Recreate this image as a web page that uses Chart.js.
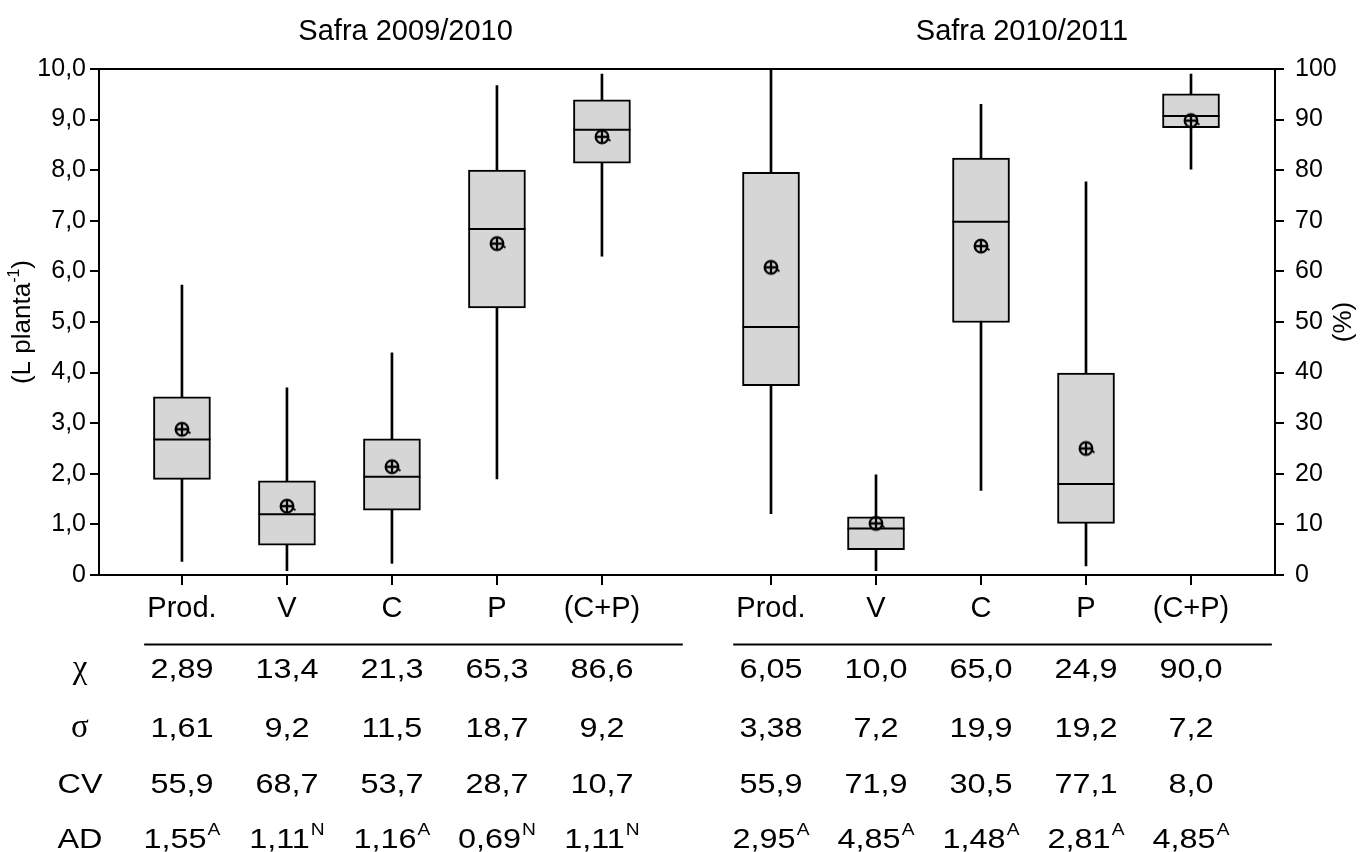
<!DOCTYPE html>
<html>
<head>
<meta charset="utf-8">
<script src="https://cdn.jsdelivr.net/npm/chart.js@4.4.1/dist/chart.umd.min.js"></script>
<style>
html, body { margin: 0; padding: 0; background: #fff; }
canvas { display: block; }
</style>
</head>
<body>
<canvas id="c" width="1361" height="852"></canvas>
<script>
// ---------------- DATA ----------------
const categories = ['Prod.', 'V', 'C', 'P', '(C+P)'];
const seasons = ['Safra 2009/2010', 'Safra 2010/2011'];

// Prod. in L planta-1 (left axis); V, C, P, (C+P) in % (right axis)
const low2009    = [0.27,  0.85,  2.3, 19.0, 63.0];
const q1_2009    = [1.89,  5.9,  12.8, 52.8, 81.4];
const median2009 = [2.68, 12.0,  19.4, 68.4, 88.0];
const q3_2009    = [3.52, 18.6,  26.9, 80.0, 93.9];
const high2009   = [5.73, 37.0,  43.9, 96.7, 99.0];
const mean2009   = [2.88, 13.6,  21.4, 65.5, 86.6];

const low2010    = [1.21,  0.85, 16.7,  1.8, 80.2];
const q1_2010    = [3.74,  5.0,  49.9, 10.2, 88.4];
const median2010 = [4.90,  9.2,  69.8, 18.0, 90.7];
const q3_2010    = [7.96, 11.5,  82.4, 39.9, 95.1];
const high2010   = [10.0, 19.8,  93.0, 77.7, 99.0];
const mean2010   = [6.08, 10.2,  65.0, 25.0, 89.8];

const leftTickLabels  = ['0', '1,0', '2,0', '3,0', '4,0', '5,0', '6,0', '7,0', '8,0', '9,0', '10,0'];
const rightTickLabels = ['0', '10', '20', '30', '40', '50', '60', '70', '80', '90', '100'];

const statLabels = ['\u03C7', '\u03C3', 'CV', 'AD'];
const tabMean2009  = ['2,89', '13,4', '21,3', '65,3', '86,6'];
const tabSd2009    = ['1,61', '9,2', '11,5', '18,7', '9,2'];
const tabCv2009    = ['55,9', '68,7', '53,7', '28,7', '10,7'];
const tabAd2009    = ['1,55', '1,11', '1,16', '0,69', '1,11'];
const tabAdSig2009 = ['A', 'N', 'A', 'N', 'N'];
const tabMean2010  = ['6,05', '10,0', '65,0', '24,9', '90,0'];
const tabSd2010    = ['3,38', '7,2', '19,9', '19,2', '7,2'];
const tabCv2010    = ['55,9', '71,9', '30,5', '77,1', '8,0'];
const tabAd2010    = ['2,95', '4,85', '1,48', '2,81', '4,85'];
const tabAdSig2010 = ['A', 'A', 'A', 'A', 'A'];

// ---------------- LAYOUT / STYLE ----------------
const FONT = "'Liberation Sans', Arial, sans-serif";
const SERIF = "'Liberation Serif', 'Times New Roman', serif";
const groupStart = [1, 6.61];     // x-axis value of first category in each season
const X_MIN = 0.21, X_MAX = 11.41;
const STRETCH = 1.2;
const BOX_FILL = '#d6d6d6';

const seasonData = [
  { low: low2009, q1: q1_2009, med: median2009, q3: q3_2009, high: high2009, mean: mean2009 },
  { low: low2010, q1: q1_2010, med: median2010, q3: q3_2010, high: high2010, mean: mean2010 }
];
const tableData = [
  { rows: [tabMean2009, tabSd2009, tabCv2009, tabAd2009], sig: tabAdSig2009 },
  { rows: [tabMean2010, tabSd2010, tabCv2010, tabAd2010], sig: tabAdSig2010 }
];

const xOf = (g, i) => groupStart[g] + i;
const tickPositions = seasons.flatMap((s, g) => categories.map((c, i) => xOf(g, i)));
const xTickLabels = seasons.flatMap(() => categories);

// mean marker: circle with cross and a small tail (point style image)
function makeMeanMarker() {
  const c = document.createElement('canvas');
  c.width = 26; c.height = 26;
  const k = c.getContext('2d');
  k.strokeStyle = '#000';
  k.lineWidth = 2.3;
  k.beginPath(); k.arc(13, 13, 6.3, 0, Math.PI * 2); k.stroke();
  k.beginPath();
  k.moveTo(6.7, 13); k.lineTo(19.3, 13);
  k.moveTo(13, 6.7); k.lineTo(13, 19.3);
  k.stroke();
  k.lineWidth = 2;
  k.beginPath(); k.moveTo(18.5, 15); k.lineTo(21.5, 17); k.stroke();
  return c;
}
const meanMarker = makeMeanMarker();

function collect(usePct, fn) {
  const out = [];
  seasonData.forEach((s, g) => categories.forEach((c, i) => {
    if ((i !== 0) === usePct) out.push({ x: xOf(g, i), y: fn(s, i) });
  }));
  return out;
}

const datasets = [];
[['y', false], ['y2', true]].forEach(([axis, pct]) => {
  datasets.push({ type: 'bar', xAxisID: 'x', yAxisID: axis,
    data: collect(pct, (s, i) => [s.low[i], s.high[i]]),
    backgroundColor: '#000', borderWidth: 0, barThickness: 2, grouped: false, order: 4 });
  datasets.push({ type: 'bar', xAxisID: 'x', yAxisID: axis,
    data: collect(pct, (s, i) => [s.q1[i], s.q3[i]]),
    backgroundColor: BOX_FILL, borderColor: '#000', borderWidth: 2, borderSkipped: false,
    barThickness: 57, grouped: false, order: 3 });
  datasets.push({ type: 'scatter', xAxisID: 'x', yAxisID: axis,
    data: collect(pct, (s, i) => s.med[i]),
    pointStyle: 'line', pointRadius: 28.5, pointBorderWidth: 2, pointBorderColor: '#000', order: 2 });
  datasets.push({ type: 'scatter', xAxisID: 'x', yAxisID: axis,
    data: collect(pct, (s, i) => s.mean[i]),
    pointStyle: meanMarker, pointRadius: 7, order: 1 });
});

function drawStretched(ctx, text, x, y, sx, align) {
  ctx.save();
  ctx.translate(x, y);
  ctx.scale(sx, 1);
  ctx.textAlign = align;
  ctx.fillText(text, 0, 0);
  ctx.restore();
}

const annotationsPlugin = {
  id: 'annotations',
  afterDraw(chart) {
    const ctx = chart.ctx;
    const xs = chart.scales.x;
    const area = chart.chartArea;
    const midY = (area.top + area.bottom) / 2;
    ctx.save();
    ctx.fillStyle = '#000';
    ctx.strokeStyle = '#000';
    ctx.textBaseline = 'alphabetic';

    // season titles
    const titleShift = [2.13, 2.39];
    ctx.font = `29px ${FONT}`;
    ctx.textAlign = 'center';
    seasons.forEach((t, g) => ctx.fillText(t, xs.getPixelForValue(groupStart[g] + titleShift[g]), 40));

    // rules above table
    ctx.lineWidth = 2;
    seasons.forEach((t, g) => {
      ctx.beginPath();
      ctx.moveTo(xs.getPixelForValue(groupStart[g] - 0.36), 644.5);
      ctx.lineTo(xs.getPixelForValue(groupStart[g] + categories.length - 1 + 0.77), 644.5);
      ctx.stroke();
    });

    // table
    const baselines = [678, 736.5, 793, 848];
    statLabels.forEach((lab, r) => {
      const greek = r < 2;
      ctx.font = greek ? `33px ${SERIF}` : `27px ${FONT}`;
      drawStretched(ctx, lab, 80, baselines[r], greek ? 1 : STRETCH, 'center');
    });
    tableData.forEach((td, g) => {
      td.rows.forEach((row, r) => {
        row.forEach((txt, i) => {
          const cx = xs.getPixelForValue(xOf(g, i));
          if (r < 3) {
            ctx.font = `27px ${FONT}`;
            drawStretched(ctx, txt, cx, baselines[r], STRETCH, 'center');
          } else {
            ctx.font = `27px ${FONT}`;
            const w1 = ctx.measureText(txt).width * STRETCH;
            ctx.font = `16px ${FONT}`;
            const w2 = ctx.measureText(td.sig[i]).width * STRETCH;
            const start = cx - (w1 + w2 + 1) / 2;
            ctx.font = `27px ${FONT}`;
            drawStretched(ctx, txt, start, baselines[r], STRETCH, 'left');
            ctx.font = `16px ${FONT}`;
            drawStretched(ctx, td.sig[i], start + w1 + 1, baselines[r] - 13, STRETCH, 'left');
          }
        });
      });
    });

    // left axis title with superscript
    ctx.save();
    ctx.translate(30, midY);
    ctx.rotate(-Math.PI / 2);
    ctx.textAlign = 'left';
    ctx.font = `26px ${FONT}`;
    const p1 = '(L planta', p3 = ')', p2 = '-1';
    const w1 = ctx.measureText(p1).width;
    const w3 = ctx.measureText(p3).width;
    ctx.font = `16px ${FONT}`;
    const w2 = ctx.measureText(p2).width;
    let sx = -(w1 + w2 + w3) / 2;
    ctx.font = `26px ${FONT}`;
    ctx.fillText(p1, sx, 0);
    ctx.font = `16px ${FONT}`;
    ctx.fillText(p2, sx + w1, -11);
    ctx.font = `26px ${FONT}`;
    ctx.fillText(p3, sx + w1 + w2, 0);
    ctx.restore();

    // right axis title
    ctx.save();
    ctx.translate(1351, midY);
    ctx.rotate(-Math.PI / 2);
    ctx.textAlign = 'center';
    ctx.font = `26px ${FONT}`;
    ctx.fillText('(%)', 0, 0);
    ctx.restore();

    ctx.restore();
  }
};

const axisGrid = { display: true, drawOnChartArea: false, drawTicks: true, tickLength: 9, color: '#000', lineWidth: 2, offset: false };
const axisBorder = { display: true, color: '#000', width: 2 };

new Chart(document.getElementById('c'), {
  type: 'bar',
  data: { datasets },
  options: {
    responsive: false,
    animation: false,
    events: [],
    layout: { padding: 0 },
    plugins: { legend: { display: false }, tooltip: { enabled: false }, title: { display: false } },
    scales: {
      x: {
        type: 'linear', position: 'bottom', min: X_MIN, max: X_MAX, offset: false,
        afterBuildTicks: (s) => { s.ticks = tickPositions.map(v => ({ value: v })); },
        afterFit: (s) => { s.height = 277; },
        ticks: { autoSkip: false, maxRotation: 0, minRotation: 0, padding: 7, color: '#000',
                 font: { family: FONT, size: 29 }, callback: (v, i) => xTickLabels[i] },
        grid: Object.assign({}, axisGrid, { tickLength: 10 }),
        border: axisBorder
      },
      xTop: {
        type: 'linear', position: 'top', min: X_MIN, max: X_MAX, offset: false,
        afterFit: (s) => { s.height = 69; },
        ticks: { display: false },
        grid: { display: false, offset: false },
        border: axisBorder
      },
      y: {
        type: 'linear', position: 'left', min: 0, max: 10,
        afterFit: (s) => { s.width = 99; },
        ticks: { stepSize: 1, padding: 4, color: '#000', font: { family: FONT, size: 25 },
                 callback: (v, i) => leftTickLabels[i] },
        grid: axisGrid,
        border: axisBorder
      },
      y2: {
        type: 'linear', position: 'right', min: 0, max: 100,
        afterFit: (s) => { s.width = 86; },
        ticks: { stepSize: 10, padding: 11, color: '#000', font: { family: FONT, size: 25 },
                 callback: (v, i) => rightTickLabels[i] },
        grid: axisGrid,
        border: axisBorder
      }
    }
  },
  plugins: [annotationsPlugin]
});
</script>
</body>
</html>
